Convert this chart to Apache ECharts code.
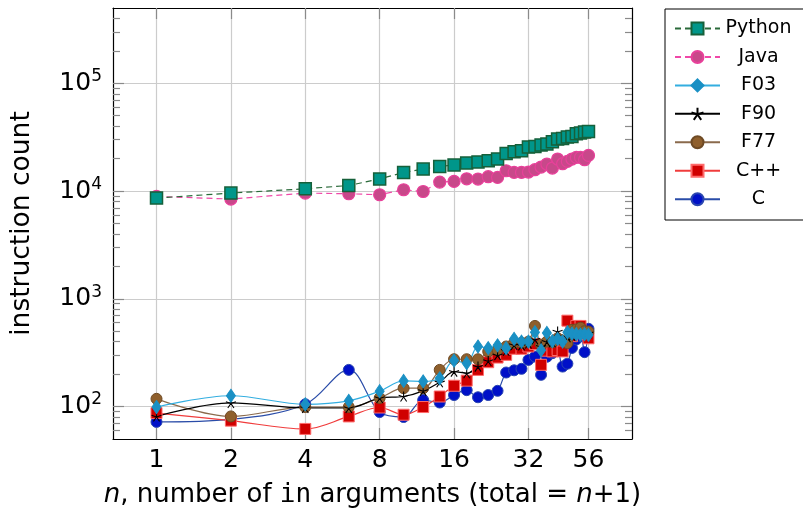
<!DOCTYPE html>
<html>
<head>
<meta charset="utf-8">
<script src="https://cdn.jsdelivr.net/npm/echarts@6/dist/echarts.min.js"></script>
<style>
html,body{margin:0;padding:0;background:#fff;}
#chart{width:803px;height:512px;}
</style>
</head>
<body>
<div id="chart"></div>
<script>
// ---- data ----
const nArgs = [1,2,4,6,8,10,12,14,16,18,20,22,24,26,28,30,32,34,36,38,40,42,44,46,48,50,52,54,56];
const python = [8610,9580,10500,11270,12950,14890,16000,16930,17450,18210,18610,19130,19820,22340,23180,23700,25650,25960,26790,27350,28720,30410,30830,31770,32160,34100,34600,35340,35800];
const java = [8910,8430,9580,9440,9240,10280,9910,12120,12280,13000,12930,13590,13380,15440,14890,14890,15020,15780,16710,17820,16360,19830,17940,18840,19830,20520,20520,19540,21420];
const f03 = [99,126,105,113,139,173,171,183,267,253,361,349,370,348,425,401,401,490,333,482,405,425,401,489,475,470,465,470,462];
const f90 = [81,108,97,97,120,124,140,168,211,204,235,265,300,330,373,370,385,420,360,400,395,497,420,440,455,470,480,470,480];
const f77 = [118,81,99,99,120,148,148,219,275,275,275,324,335,361,390,390,400,560,375,401,395,430,410,388,515,520,540,500,497];
const cpp = [87,74,62,81,98,84,99,124,156,174,219,258,285,302,344,344,361,380,244,330,325,335,325,627,450,560,560,470,430];
const cLang = [72,76,105,219,89,80,115,109,128,142,122,128,140,207,217,224,271,291,197,290,313,330,235,250,350,420,450,320,527];

const xTicks = [1,2,4,8,16,32,56];
const yTicks = [100,1000,10000,100000];
const legendOrder = ['Python','Java','F03','F90','F77','C++','C'];

const X_MIN = 2/3, X_MAX = 84, Y_MIN = 50, Y_MAX = 500000;
const FONT = 'DejaVu Sans';

// minor ticks 2..9 per decade
const yMinor = [];
[10,100,1000,10000,100000].forEach(d => { for (let k = 2; k <= 9; k++) { const v = k*d; if (v > Y_MIN && v < Y_MAX) yMinor.push(v); } });

const pairs = arr => nArgs.map((n,i) => [n, arr[i]]);

const tickColor = '#8a8a8a';
function xAxisCfg(pos, main) {
  return {
    type: 'log', logBase: 2, min: X_MIN, max: X_MAX, position: pos, gridIndex: 0,
    axisLine: { show: true, onZero: false, lineStyle: { color: '#000', width: 1.2 } },
    axisTick: { show: true, inside: true, length: 11, customValues: xTicks, lineStyle: { color: tickColor, width: 1.2 } },
    axisLabel: main ? { show: true, customValues: xTicks, margin: 9, fontSize: 25, fontFamily: FONT, color: '#000' } : { show: false },
    splitLine: main ? { show: true, customValues: xTicks, lineStyle: { color: '#cccccc', width: 1.2 } } : { show: false },
    minorTick: { show: false }
  };
}
function yAxisCfg(pos, kind) {
  const major = kind === 'major';
  return {
    type: 'log', logBase: 10, min: Y_MIN, max: Y_MAX, position: pos, gridIndex: 0,
    axisLine: { show: major, onZero: false, lineStyle: { color: '#000', width: 1.2 } },
    axisTick: { show: true, inside: true, length: major ? 11 : 7, customValues: major ? yTicks : yMinor, lineStyle: { color: tickColor, width: 1.2 } },
    axisLabel: { show: false },
    splitLine: { show: false },
    minorTick: { show: false }
  };
}

const yMain = yAxisCfg('left', 'major');
yMain.axisLabel = {
  show: true, customValues: yTicks, margin: 11,
  formatter: v => '{b|10}{s|' + Math.round(Math.log10(v)) + '}',
  rich: {
    b: { fontSize: 25, fontFamily: FONT, color: '#000', lineHeight: 30 },
    s: { fontSize: 17, fontFamily: FONT, color: '#000', lineHeight: 18, verticalAlign: 'top' }
  }
};
yMain.splitLine = { show: true, customValues: yTicks, lineStyle: { color: '#cccccc', width: 1.2 } };
yMain.name = 'instruction count';
yMain.nameLocation = 'middle';
yMain.nameGap = 77;
yMain.nameTextStyle = { fontSize: 26.5, fontFamily: FONT, color: '#000' };

const xMain = xAxisCfg('bottom', true);
xMain.name = '{i|n}, number of {m|in} arguments (total = {i|n}+1)';
xMain.nameLocation = 'middle';
xMain.nameGap = 43;
xMain.nameTextStyle = {
  fontSize: 26, fontFamily: FONT, color: '#000',
  rich: {
    i: { fontSize: 26, fontFamily: FONT, fontStyle: 'italic', color: '#000' },
    m: { fontSize: 26, fontFamily: 'DejaVu Sans Mono', color: '#000' }
  }
};

const starPath = 'path://M5,5L5,0M5,5L0.245,3.455M5,5L2.061,9.045M5,5L7.939,9.045M5,5L9.755,3.455';

function lowSeries(name, data, symbol, size, fill, border, line) {
  return {
    name, type: 'line', data: pairs(data), xAxisIndex: 0, yAxisIndex: 0,
    symbol, symbolSize: size, smooth: 0.35, showSymbol: true,
    itemStyle: { color: fill, borderColor: border, borderWidth: 1 },
    lineStyle: { color: line, width: 1.2 },
    emphasis: { disabled: true }, z: 3
  };
}

const series = [
  lowSeries('C', cLang, 'circle', 11, '#0010c8', '#2a46b0', '#2a4ca8'),
  lowSeries('C++', cpp, 'rect', 11, '#d00000', '#ff6b6b', '#f03c3c'),
  lowSeries('F77', f77, 'circle', 11, '#8f5f2c', '#6e4a24', '#8a6a4c'),
  (function(){ const s = lowSeries('F90', f90, starPath, 10, '#000', '#000', '#000');
    s.itemStyle = { color: 'rgba(0,0,0,0)', borderColor: '#000', borderWidth: 1.1 }; return s; })(),
  lowSeries('F03', f03, 'diamond', [9,13], '#1a90c4', '#1a90c4', '#33aee0'),
  {
    name: 'Java', type: 'line', data: pairs(java), symbol: 'circle', symbolSize: 12,
    itemStyle: { color: '#c8488a', borderColor: '#e8409a', borderWidth: 1.2 },
    lineStyle: { color: '#f048a8', width: 1.2, type: [6,4] }, emphasis: { disabled: true }, z: 3
  },
  {
    name: 'Python', type: 'line', data: pairs(python), symbol: 'rect', symbolSize: 12,
    itemStyle: { color: '#00968a', borderColor: '#16603a', borderWidth: 1.5 },
    lineStyle: { color: '#2a6a3a', width: 1.2, type: [6,4] }, emphasis: { disabled: true }, z: 3
  }
];

const chart = echarts.init(document.getElementById('chart'), null, { renderer: 'canvas' });
chart.setOption({
  animation: false,
  backgroundColor: '#fff',
  grid: { left: 113, top: 8, right: 171, bottom: 73, outerBoundsMode: 'none', containLabel: false },
  xAxis: [xMain, xAxisCfg('top', false)],
  yAxis: [yMain, yAxisCfg('left', 'minor'), yAxisCfg('right', 'major'), yAxisCfg('right', 'minor')],
  legend: {
    show: true, data: legendOrder, orient: 'vertical', left: 665, top: 9,
    itemWidth: 45, itemHeight: 15, itemGap: 9.45,
    padding: [10, 20, 11.3, 9],
    borderColor: '#000', borderWidth: 1, borderRadius: 0, backgroundColor: '#fff',
    selectedMode: false,
    formatter: name => '{c|' + name + '}',
    textStyle: {
      fontSize: 19, fontFamily: FONT, color: '#000',
      rich: { c: { width: 67, align: 'center', fontSize: 19, fontFamily: FONT, lineHeight: 22, color: '#000' } }
    }
  },
  tooltip: { show: false },
  series
});
</script>
</body>
</html>
